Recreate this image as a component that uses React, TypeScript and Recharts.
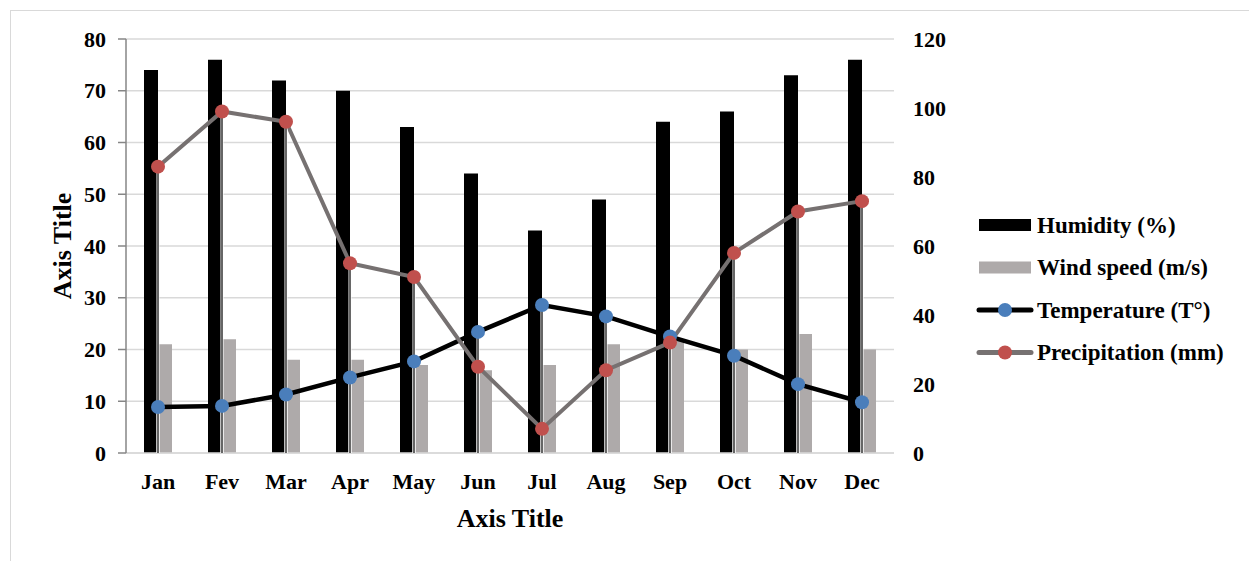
import React from 'react';
import {
  ComposedChart,
  Bar,
  Line,
  XAxis,
  YAxis,
  CartesianGrid,
} from 'recharts';

const months = ['Jan', 'Fev', 'Mar', 'Apr', 'May', 'Jun', 'Jul', 'Aug', 'Sep', 'Oct', 'Nov', 'Dec'];
const humidity = [74, 76, 72, 70, 63, 54, 43, 49, 64, 66, 73, 76];
const windSpeed = [21, 22, 18, 18, 17, 16, 17, 21, 22, 20, 23, 20];
const temperature = [8.9, 9.1, 11.3, 14.6, 17.7, 23.4, 28.6, 26.4, 22.5, 18.8, 13.3, 9.8];
const precipitation = [83, 99, 96, 55, 51, 25, 7, 24, 32, 58, 70, 73];

const leftTicks = [0, 10, 20, 30, 40, 50, 60, 70, 80];
const rightTicks = [0, 20, 40, 60, 80, 100, 120];

const FONT = "'Liberation Serif', 'DejaVu Serif', serif";
const CHART_W = 1249;
const CHART_H = 561;
const MARGIN = { top: 39, right: 285, bottom: 28, left: 10 };
const X_AXIS_H = 80;
const PLOT_BOTTOM = CHART_H - MARGIN.bottom - X_AXIS_H;

const txt = { fontFamily: FONT, fontWeight: 700 } as React.CSSProperties;

const data = months.map((m, i) => ({
  month: m,
  humidity: humidity[i],
  wind: windSpeed[i],
  temperature: temperature[i],
  precipitation: precipitation[i],
}));

const legendItems = [
  { name: 'Humidity (%)', kind: 'bar', color: '#000000' },
  { name: 'Wind speed (m/s)', kind: 'bar', color: '#aeaaaa' },
  { name: 'Temperature (T°)', kind: 'line', color: '#000000', dot: '#4a7ebb' },
  { name: 'Precipitation (mm)', kind: 'line', color: '#767171', dot: '#c0504d' },
];

// Excel style drop lines, drawn under the visible lines
const DropLine = (props: any) => {
  const { cx, cy } = props;
  if (cx == null || cy == null) return null;
  return (
    <g key={`drop-${cx}`}>
      <line x1={cx} y1={cy} x2={cx} y2={PLOT_BOTTOM} stroke="#ffffff" strokeWidth={3} />
      <line x1={cx} y1={cy} x2={cx} y2={PLOT_BOTTOM} stroke="#000000" strokeWidth={1.2} />
    </g>
  );
};

const LeftTick = (props: any) => (
  <text x={props.x} y={props.y} dy="0.35em" textAnchor="end" style={txt} fontSize={22} fill="#000">
    {props.payload.value}
  </text>
);

const RightTick = (props: any) => (
  <text x={props.x} y={props.y} dy="0.35em" textAnchor="start" style={txt} fontSize={22} fill="#000">
    {props.payload.value}
  </text>
);

const MonthTick = (props: any) => (
  <text x={props.x} y={props.y} dy={36} textAnchor="middle" style={txt} fontSize={22} fill="#000">
    {props.payload.value}
  </text>
);

const Legend = () => (
  <svg width={CHART_W} height={CHART_H} style={{ position: 'absolute', left: 0, top: 0, pointerEvents: 'none' }}>
    {legendItems.map((item, i) => {
      const cy = 225 + i * 42.5;
      return (
        <g key={item.name}>
          {item.kind === 'bar' ? (
            <rect x={979} y={cy - 6} width={52} height={12} fill={item.color} />
          ) : (
            <g>
              <line x1={979} y1={cy} x2={1031} y2={cy} stroke={item.color} strokeWidth={5} strokeLinecap="round" />
              <circle cx={1005} cy={cy} r={7} fill={item.dot} />
            </g>
          )}
          <text x={1037} y={cy} dy="0.33em" style={txt} fontSize={23} fill="#000">
            {item.name}
          </text>
        </g>
      );
    })}
  </svg>
);

export default function App() {
  return (
    <div style={{ position: 'absolute', left: 0, top: 0, width: CHART_W, height: CHART_H, background: '#fff', fontFamily: FONT }}>
      <div
        style={{
          position: 'absolute',
          left: 10,
          top: 10,
          width: CHART_W - 10,
          height: CHART_H - 10,
          borderTop: '1px solid #d9d9d9',
          borderLeft: '1px solid #d9d9d9',
          boxSizing: 'border-box',
        }}
      />
      <div style={{ position: 'absolute', left: 0, top: 0 }}>
        <ComposedChart width={CHART_W} height={CHART_H} data={data} margin={MARGIN} barGap={0} barSize={14}>
          <CartesianGrid vertical={false} stroke="#d9d9d9" strokeWidth={1.5} yAxisId="left" />
          <XAxis
            dataKey="month"
            height={X_AXIS_H}
            tickLine={false}
            tickSize={0}
            tickMargin={0}
            axisLine={{ stroke: '#d9d9d9', strokeWidth: 1.5 }}
            tick={<MonthTick />}
            interval={0}
            label={(p: any) => {
              const vb = p.viewBox;
              return (
                <text x={vb.x + vb.width / 2} y={vb.y + 74} textAnchor="middle" style={txt} fontSize={26} fill="#000">
                  Axis Title
                </text>
              );
            }}
          />
          <YAxis
            yAxisId="left"
            domain={[0, 80]}
            ticks={leftTicks}
            width={116}
            tickSize={8}
            tickMargin={12}
            tickLine={{ stroke: '#868686', strokeWidth: 1.5 }}
            axisLine={{ stroke: '#868686', strokeWidth: 1.5 }}
            tick={<LeftTick />}
            interval={0}
            label={(p: any) => {
              const vb = p.viewBox;
              const cx = vb.x + 52;
              const cy = vb.y + vb.height / 2;
              return (
                <text x={cx} y={cy} dy="0.35em" transform={`rotate(-90, ${cx}, ${cy})`} textAnchor="middle" style={txt} fontSize={26} fill="#000">
                  Axis Title
                </text>
              );
            }}
          />
          <YAxis
            yAxisId="right"
            orientation="right"
            domain={[0, 120]}
            ticks={rightTicks}
            width={70}
            tickSize={8}
            tickMargin={11}
            tickLine={{ stroke: 'none' }}
            axisLine={false}
            tick={<RightTick />}
            interval={0}
          />
          <Bar yAxisId="left" dataKey="humidity" fill="#000000" isAnimationActive={false} />
          <Bar yAxisId="left" dataKey="wind" fill="#aeaaaa" isAnimationActive={false} />
          <Line yAxisId="left" dataKey="temperature" stroke="none" dot={<DropLine />} activeDot={false} isAnimationActive={false} legendType="none" />
          <Line yAxisId="right" dataKey="precipitation" stroke="none" dot={<DropLine />} activeDot={false} isAnimationActive={false} legendType="none" />
          <Line
            yAxisId="left"
            dataKey="temperature"
            stroke="#000000"
            strokeWidth={4.5}
            dot={{ r: 7, fill: '#4a7ebb', stroke: '#4a7ebb', strokeWidth: 0 }}
            activeDot={false}
            isAnimationActive={false}
          />
          <Line
            yAxisId="right"
            dataKey="precipitation"
            stroke="#767171"
            strokeWidth={4}
            dot={{ r: 7, fill: '#c0504d', stroke: '#c0504d', strokeWidth: 0 }}
            activeDot={false}
            isAnimationActive={false}
          />
        </ComposedChart>
      </div>
      <Legend />
    </div>
  );
}
